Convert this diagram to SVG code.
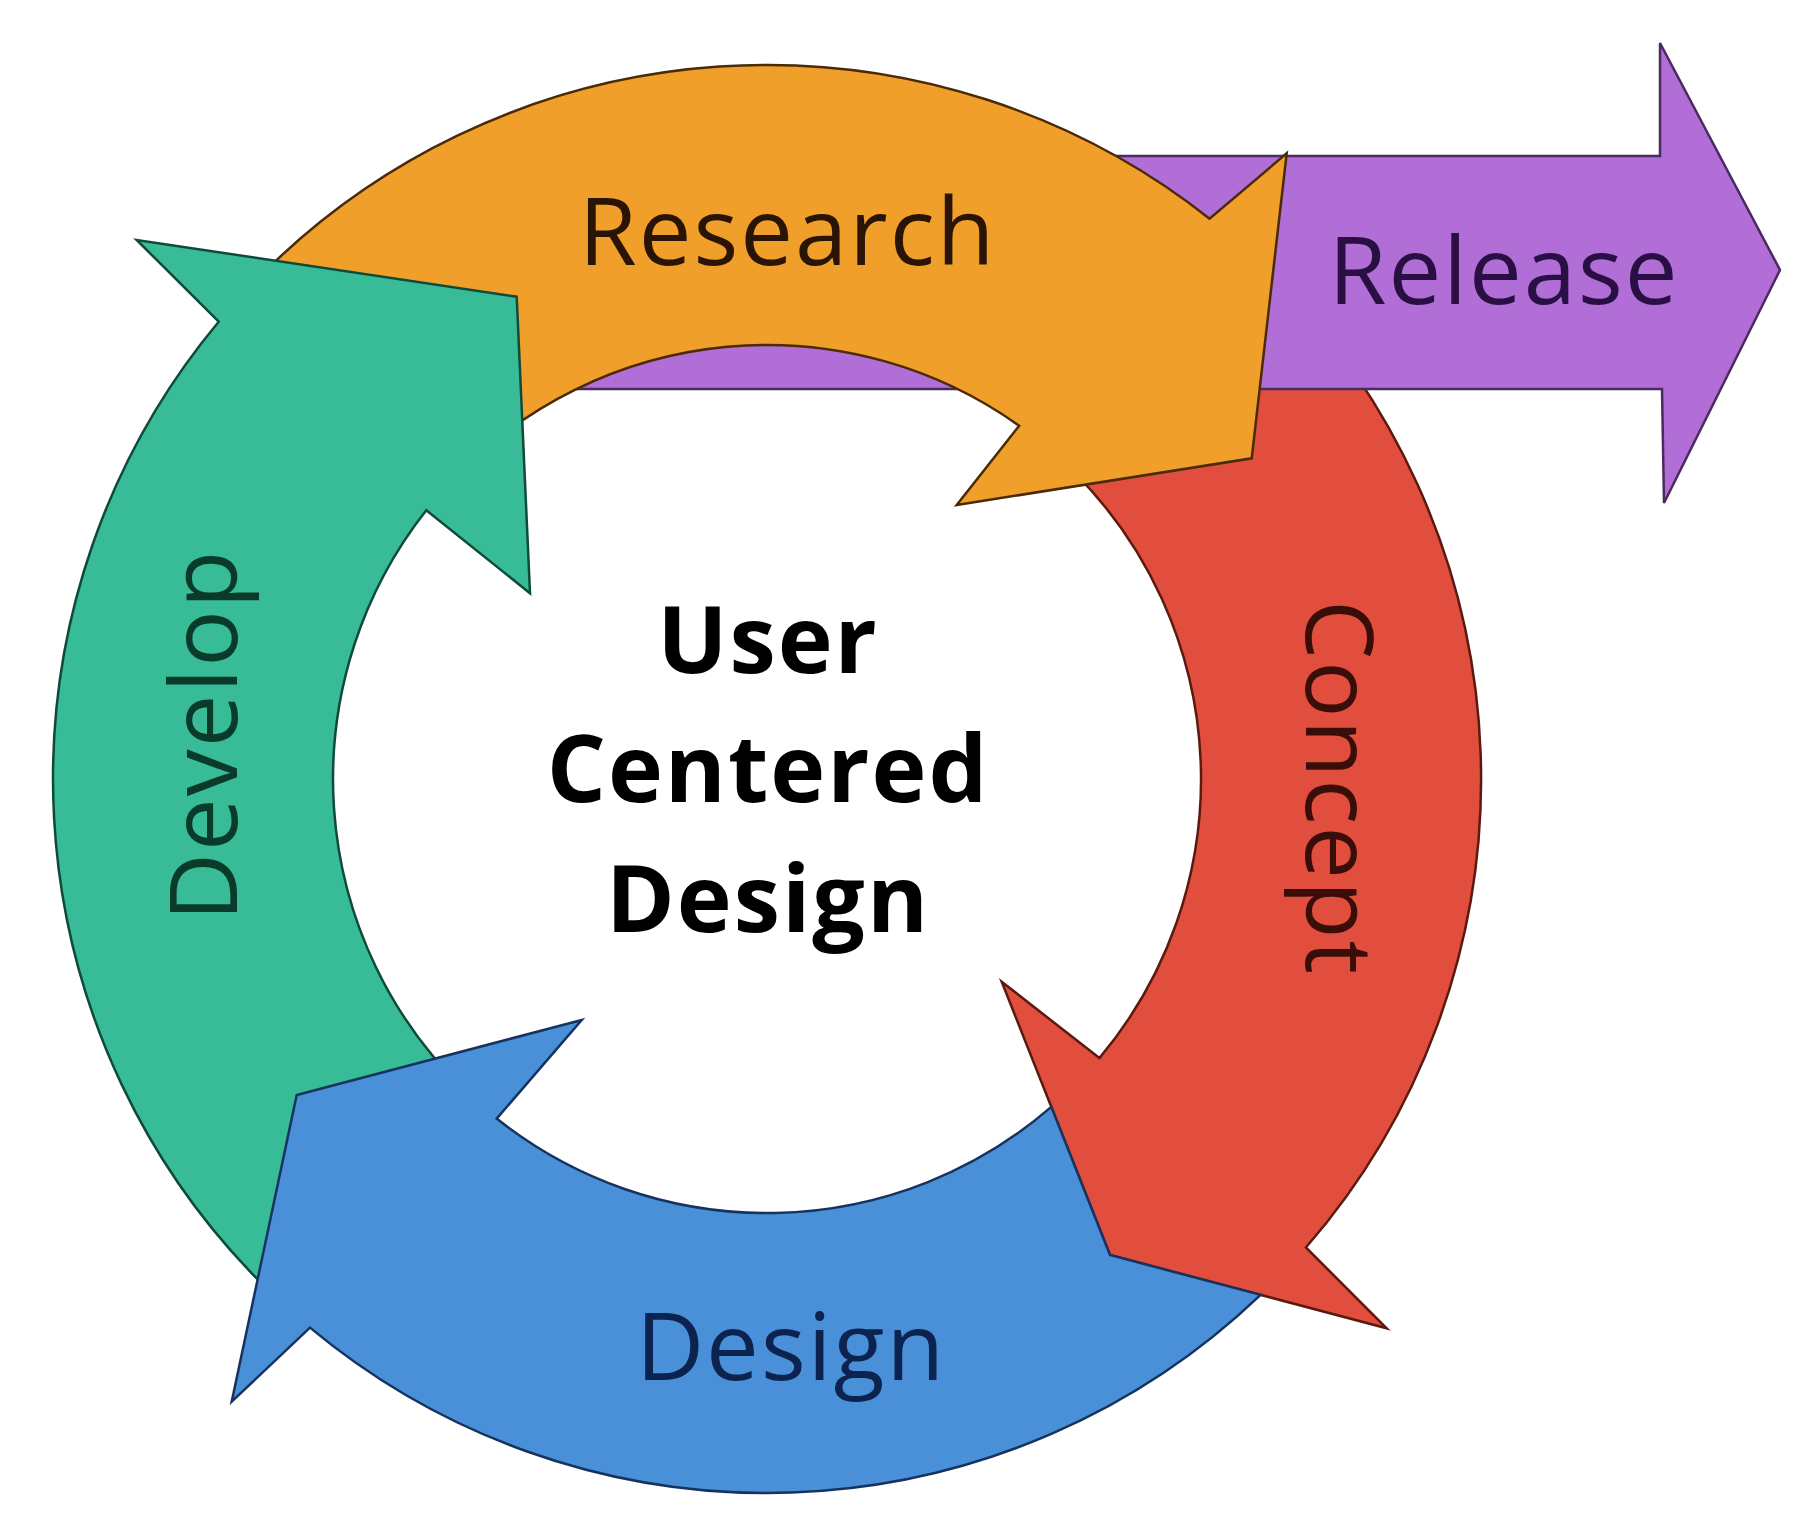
<svg xmlns="http://www.w3.org/2000/svg" width="1814" height="1522" viewBox="0 0 1814 1522">
  <style>
    .arrow { stroke-width: 2.5; stroke-linejoin: miter; }
    .lbl { font-family: "Open Sans", "Liberation Sans", sans-serif; font-size: 94px; letter-spacing: 2px; text-anchor: middle; }
    .center { font-family: "Open Sans", "Liberation Sans", sans-serif; font-size: 93px; font-weight: 700; letter-spacing: 2px; text-anchor: middle; fill: #000; }
  </style>
  <rect width="1814" height="1522" fill="#fff"/>
  <g id="concept">
    <path class="arrow" fill="#E24E3E" stroke="#5a1a10" d="M 1271.9,274.1 A 714 714 0 0 1 1305.9,1247.5 L 1386.7,1328.3 L 1110,1255 L 1001.7,981.7 L 1099.4,1058.1 A 434 434 0 0 0 1073.9,472.1 Z"/>
    <text class="lbl" fill="#3a0e08" transform="translate(1306,788) rotate(90)">Concept</text>
  </g>
  <g id="release">
    <path class="arrow" fill="#B06ED6" stroke="#4a2a60" d="M 560,156 L 1660,156 L 1660,43 L 1780,270 L 1664,503 L 1662,389 L 560,389 Z"/>
    <text class="lbl" fill="#2a0f44" x="1504" y="304">Release</text>
  </g>
  <g id="research">
    <path class="arrow" fill="#F0A02A" stroke="#4a2a08" d="M 253.4,283 A 714 714 0 0 1 1209.6,218.7 L 1286.7,153.3 L 1251.7,458.3 L 956.7,505 L 1019.2,425.8 A 434 434 0 0 0 454.8,477.5 Z"/>
    <text class="lbl" fill="#2a1405" x="787.5" y="265">Research</text>
  </g>
  <g id="develop">
    <path class="arrow" fill="#38BC98" stroke="#0f4a3a" d="M 271,1292.6 A 714 714 0 0 1 218.7,321.7 L 136.7,240 L 516.7,296.7 L 530,593.3 L 426.3,510.2 A 434 434 0 0 0 465.5,1091.2 Z"/>
    <text class="lbl" fill="#0a3a2a" transform="translate(237,735) rotate(-90)">Develop</text>
  </g>
  <g id="design">
    <path class="arrow" fill="#4A90D9" stroke="#16335e" d="M 1260.6,1294.9 A 714 714 0 0 1 310,1327.6 L 231.7,1401.7 L 296.7,1095 L 581.7,1020 L 496.7,1118.6 A 434 434 0 0 0 1051.3,1106.9 L 1110,1255 Z"/>
    <text class="lbl" fill="#0c2350" x="791" y="1380">Design</text>
  </g>
  <g id="ucd-center">
    <text class="center" x="768" y="673">User</text>
    <text class="center" x="768" y="802">Centered</text>
    <text class="center" x="768" y="932">Design</text>
  </g>
  <g id="connectors"/>
</svg>
